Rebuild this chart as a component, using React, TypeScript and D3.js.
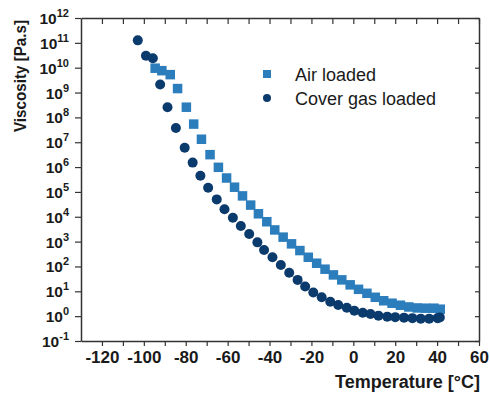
import React, { useEffect, useRef } from 'react';
import * as d3 from 'd3';

// Air loaded sample (squares): temperature in °C, log10 of viscosity in Pa.s
const airTemp = [-94.6, -91.4, -87.4, -83.9, -79.7, -76.2, -72.5, -68.4, -64.4, -60.5, -56.7, -52.9, -49.0, -45.3, -41.3, -37.5, -33.5, -29.5, -25.5, -21.5, -17.5, -13.5, -9.5, -5.5, -1.5, 2.5, 6.5, 10.5, 14.5, 18.5, 22.5, 26.5, 30.5, 34.5, 38.5, 41.5];
const airLogVisc = [9.98, 9.88, 9.72, 9.16, 8.41, 7.73, 7.12, 6.5, 5.99, 5.56, 5.19, 4.84, 4.47, 4.12, 3.8, 3.47, 3.18, 2.91, 2.64, 2.37, 2.13, 1.89, 1.66, 1.46, 1.26, 1.08, 0.92, 0.76, 0.62, 0.52, 0.44, 0.37, 0.33, 0.32, 0.32, 0.28];

// Cover gas loaded sample (circles)
const gasTemp = [-102.9, -99.0, -95.7, -92.2, -88.7, -84.7, -80.5, -76.7, -73.0, -69.3, -65.2, -61.5, -57.5, -53.7, -49.7, -45.8, -42.6, -38.6, -34.6, -30.6, -26.6, -23.0, -19.1, -15.1, -11.0, -7.2, -3.1, 0.5, 4.5, 8.2, 12.0, 16.2, 20.0, 24.2, 28.2, 32.2, 36.2, 40.2, 41.3];
const gasLogVisc = [11.1, 10.48, 10.38, 9.32, 8.41, 7.57, 6.78, 6.18, 5.65, 5.17, 4.7, 4.3, 3.96, 3.63, 3.31, 2.97, 2.66, 2.37, 2.06, 1.75, 1.46, 1.19, 0.95, 0.76, 0.58, 0.45, 0.34, 0.22, 0.14, 0.09, 0.02, -0.02, -0.04, -0.06, -0.08, -0.1, -0.1, -0.08, -0.05];

const xTickLabels = [-120, -100, -80, -60, -40, -20, 0, 20, 40, 60];
const yExponents = [-1, 0, 1, 2, 3, 4, 5, 6, 7, 8, 9, 10, 11, 12];
const seriesNames = ['Air loaded', 'Cover gas loaded'];

const AIR = '#2b7dbc';
const GAS = '#0b3a6d';
const AXIS = '#333333';
const FONT = '"Liberation Sans", Arial, sans-serif';

function App() {
    const svgRef = useRef(null);
    const width = 490, height = 393;
    const margin = { top: 18, right: 11, bottom: 52, left: 81 };

    useEffect(() => {
        const svg = d3.select(svgRef.current);
        svg.selectAll('*').remove();

        const x = d3.scaleLinear().domain([-130, 60]).range([margin.left, width - margin.right]);
        const y = d3.scaleLog().domain([0.1, 1e12]).range([height - margin.bottom, margin.top]);

        const minorX = d3.range(-120, 61, 10);
        const decades = yExponents.map(e => Math.pow(10, e));

        // bottom axis - labels every 20, ticks every 10, outward
        const bottom = svg.append('g')
            .attr('transform', `translate(0,${height - margin.bottom})`)
            .call(d3.axisBottom(x).tickValues(minorX).tickSize(5).tickSizeOuter(0)
                .tickFormat(d => xTickLabels.includes(d) ? String(d) : ''));
        bottom.select('.domain').attr('stroke', AXIS).attr('stroke-width', 1.5);
        bottom.selectAll('.tick line').attr('stroke', AXIS).attr('stroke-width', 1.2);
        bottom.selectAll('.tick text')
            .attr('y', 10)
            .attr('dy', '0.71em')
            .style('font-family', FONT)
            .style('font-size', '17px')
            .style('font-weight', 'bold')
            .attr('fill', '#1a1a1a');

        // top axis - inward ticks
        const top = svg.append('g')
            .attr('transform', `translate(0,${margin.top})`)
            .call(d3.axisBottom(x).tickValues(minorX).tickSize(6).tickSizeOuter(0).tickFormat(() => ''));
        top.select('.domain').attr('stroke', AXIS).attr('stroke-width', 1.5);
        top.selectAll('.tick line').attr('stroke', AXIS).attr('stroke-width', 1.2);

        // left axis - outward ticks, 10^n labels
        const left = svg.append('g')
            .attr('transform', `translate(${margin.left},0)`)
            .call(d3.axisLeft(y).tickValues(decades).tickSize(6).tickSizeOuter(0).tickFormat(() => ''));
        left.select('.domain').attr('stroke', AXIS).attr('stroke-width', 1.5);
        left.selectAll('.tick line').attr('stroke', AXIS).attr('stroke-width', 1.2);

        const yLabels = svg.append('g');
        yExponents.forEach(e => {
            const t = yLabels.append('text')
                .attr('x', 69)
                .attr('y', y(Math.pow(10, e)) + 6)
                .attr('text-anchor', 'end')
                .style('font-family', FONT)
                .style('font-weight', 'bold')
                .attr('fill', '#1a1a1a');
            t.append('tspan').style('font-size', '15.5px').text('10');
            t.append('tspan').style('font-size', '11px').attr('dy', -7).text(String(e));
        });

        // right axis - inward ticks
        const right = svg.append('g')
            .attr('transform', `translate(${width - margin.right},0)`)
            .call(d3.axisRight(y).tickValues(decades).tickSize(-4).tickSizeOuter(0).tickFormat(() => ''));
        right.select('.domain').attr('stroke', AXIS).attr('stroke-width', 1.5);
        right.selectAll('.tick line').attr('stroke', AXIS).attr('stroke-width', 1.2);

        // air loaded squares
        const s = 9.5;
        svg.append('g')
            .selectAll('rect')
            .data(airTemp.map((t, i) => ({ t, v: Math.pow(10, airLogVisc[i]) })))
            .enter()
            .append('rect')
            .attr('x', d => x(d.t) - s / 2)
            .attr('y', d => y(d.v) - s / 2)
            .attr('width', s)
            .attr('height', s)
            .attr('fill', AIR);

        // cover gas circles
        svg.append('g')
            .selectAll('circle')
            .data(gasTemp.map((t, i) => ({ t, v: Math.pow(10, gasLogVisc[i]) })))
            .enter()
            .append('circle')
            .attr('cx', d => x(d.t))
            .attr('cy', d => y(d.v))
            .attr('r', 5)
            .attr('fill', GAS);

        // legend
        const legend = svg.append('g');
        legend.append('rect').attr('x', 263).attr('y', 70).attr('width', 8).attr('height', 8).attr('fill', AIR);
        legend.append('circle').attr('cx', 267).attr('cy', 98).attr('r', 4).attr('fill', GAS);
        seriesNames.forEach((name, i) => {
            legend.append('text')
                .attr('x', 295)
                .attr('y', 81 + i * 23.5)
                .style('font-family', FONT)
                .style('font-size', '18px')
                .attr('fill', '#1a1a1a')
                .text(name);
        });

        // axis titles
        svg.append('text')
            .attr('x', width - 10)
            .attr('y', 388)
            .attr('text-anchor', 'end')
            .style('font-family', FONT)
            .style('font-size', '18px')
            .style('font-weight', 'bold')
            .attr('fill', '#1a1a1a')
            .text('Temperature [°C]');

        svg.append('text')
            .attr('transform', 'translate(26,76) rotate(-90)')
            .attr('text-anchor', 'middle')
            .attr('textLength', 112)
            .attr('lengthAdjust', 'spacingAndGlyphs')
            .style('font-family', FONT)
            .style('font-size', '17px')
            .style('font-weight', 'bold')
            .attr('fill', '#1a1a1a')
            .text('Viscosity [Pa.s]');
    }, []);

    return (
        <svg ref={svgRef} width={width} height={height}
            style={{ position: 'absolute', left: 0, top: 0, background: '#fff' }} />
    );
}

export default App;
